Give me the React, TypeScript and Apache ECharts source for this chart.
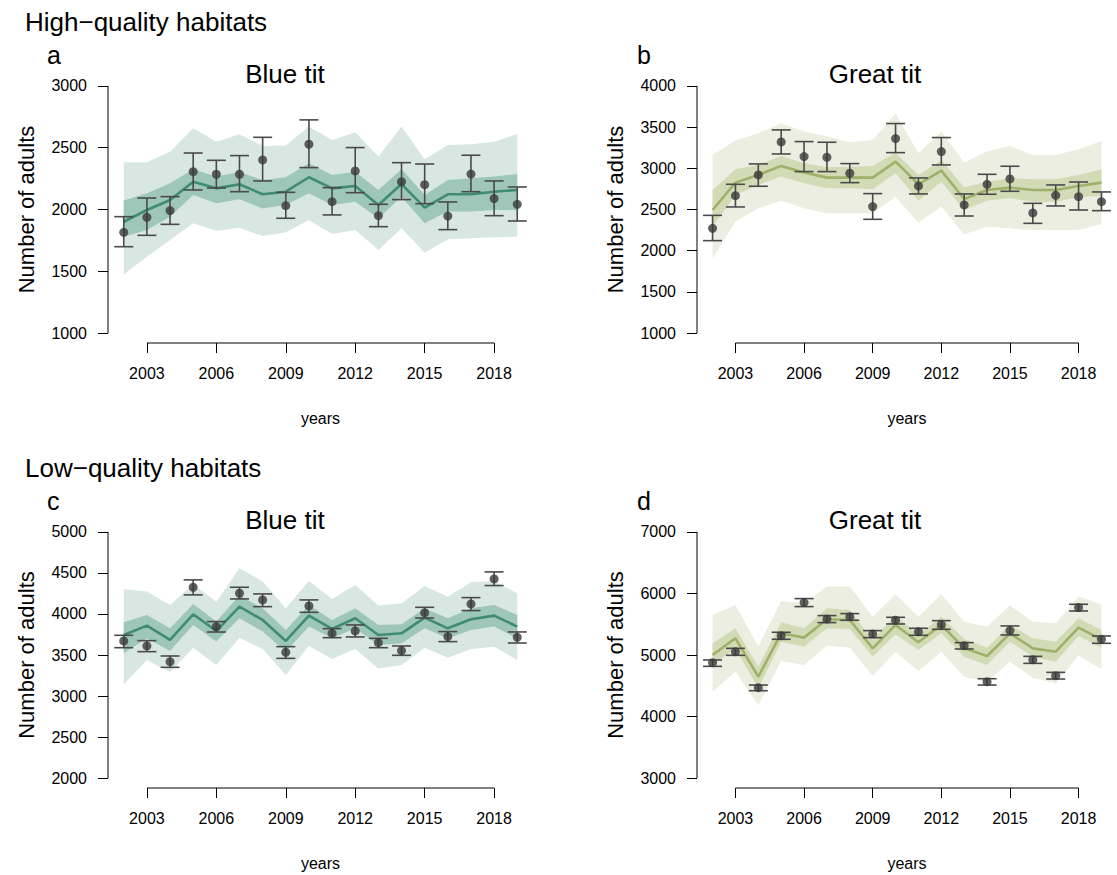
import React, { useEffect, useRef } from "react";
import * as echarts from "echarts";

const years = [2002, 2003, 2004, 2005, 2006, 2007, 2008, 2009, 2010, 2011, 2012, 2013, 2014, 2015, 2016, 2017, 2018, 2019];
const xTicks = [2003, 2006, 2009, 2012, 2015, 2018];

// Panel a: High-quality, Blue tit
const aTicks = [1000, 1500, 2000, 2500, 3000];
const aObs = [1815, 1937, 1991, 2306, 2285, 2285, 2401, 2031, 2528, 2063, 2312, 1950, 2225, 2201, 1947, 2287, 2088, 2042];
const aObsLo = [1699, 1791, 1880, 2158, 2174, 2144, 2231, 1929, 2339, 1956, 2136, 1861, 2080, 2047, 1837, 2144, 1950, 1907];
const aObsHi = [1942, 2093, 2104, 2457, 2398, 2436, 2584, 2139, 2725, 2177, 2501, 2042, 2379, 2368, 2061, 2439, 2231, 2182];
const aMed = [1901, 1996, 2077, 2225, 2171, 2204, 2123, 2144, 2261, 2171, 2190, 2036, 2206, 2015, 2123, 2123, 2144, 2158];
const aInnerLo = [1780, 1834, 1942, 2117, 2050, 2082, 2009, 2036, 2131, 2036, 2063, 1929, 2104, 1888, 1983, 1983, 1996, 1996];
const aInnerHi = [2072, 2131, 2212, 2325, 2266, 2304, 2239, 2260, 2374, 2279, 2306, 2158, 2325, 2117, 2239, 2252, 2266, 2287];
const aOuterLo = [1475, 1618, 1753, 1888, 1829, 1853, 1785, 1815, 1915, 1802, 1834, 1672, 1848, 1650, 1759, 1767, 1775, 1780];
const aOuterHi = [2382, 2382, 2468, 2657, 2549, 2609, 2514, 2517, 2671, 2563, 2625, 2428, 2671, 2406, 2522, 2528, 2549, 2611];

// Panel b: High-quality, Great tit
const bTicks = [1000, 1500, 2000, 2500, 3000, 3500, 4000];
const bObs = [2272, 2668, 2919, 3320, 3142, 3134, 2940, 2535, 3361, 2786, 3203, 2555, 2806, 2871, 2458, 2672, 2656, 2595];
const bObsLo = [2122, 2531, 2782, 3174, 2960, 2960, 2826, 2381, 3190, 2689, 3041, 2421, 2685, 2721, 2332, 2543, 2494, 2486];
const bObsHi = [2429, 2806, 3053, 3466, 3324, 3316, 3057, 2693, 3543, 2883, 3373, 2689, 2927, 3025, 2575, 2798, 2834, 2713];
const bMed = [2494, 2826, 2919, 3029, 2948, 2887, 2887, 2887, 3081, 2806, 2972, 2628, 2737, 2765, 2737, 2737, 2786, 2826];
const bInnerLo = [2292, 2676, 2798, 2899, 2818, 2757, 2757, 2745, 2940, 2608, 2838, 2494, 2608, 2636, 2595, 2595, 2648, 2664];
const bInnerHi = [2737, 2988, 3041, 3150, 3061, 3012, 3020, 3029, 3190, 2919, 3101, 2769, 2838, 2879, 2867, 2867, 2919, 2988];
const bOuterLo = [1907, 2353, 2514, 2607, 2514, 2454, 2454, 2454, 2656, 2340, 2535, 2199, 2292, 2272, 2251, 2251, 2251, 2324];
const bOuterHi = [3162, 3336, 3425, 3547, 3446, 3385, 3316, 3344, 3668, 3182, 3446, 3069, 3203, 3271, 3162, 3162, 3231, 3332];

// Panel c: Low-quality, Blue tit
const cTicks = [2000, 2500, 3000, 3500, 4000, 4500, 5000];
const cObs = [3671, 3610, 3419, 4325, 3845, 4252, 4171, 3533, 4098, 3764, 3793, 3650, 3553, 4016, 3724, 4122, 4427, 3715];
const cObsLo = [3589, 3541, 3350, 4232, 3780, 4183, 4089, 3459, 4020, 3711, 3720, 3589, 3496, 3951, 3663, 4041, 4346, 3646];
const cObsHi = [3740, 3675, 3488, 4415, 3907, 4325, 4244, 3602, 4171, 3821, 3866, 3703, 3610, 4081, 3785, 4199, 4512, 3781];
const cMed = [3744, 3858, 3683, 3996, 3793, 4089, 3927, 3671, 3980, 3817, 3947, 3744, 3764, 3955, 3825, 3935, 3980, 3846];
const cInnerLo = [3520, 3703, 3549, 3866, 3663, 3947, 3785, 3541, 3846, 3703, 3825, 3622, 3642, 3825, 3703, 3805, 3846, 3703];
const cInnerHi = [3898, 3988, 3825, 4122, 3907, 4224, 4069, 3805, 4110, 3927, 4069, 3866, 3874, 4069, 3947, 4069, 4110, 3988];
const cOuterLo = [3142, 3439, 3289, 3589, 3378, 3711, 3573, 3256, 3614, 3451, 3573, 3337, 3378, 3589, 3468, 3573, 3602, 3439];
const cOuterHi = [4301, 4272, 4110, 4362, 4150, 4557, 4394, 4069, 4402, 4183, 4354, 4102, 4130, 4341, 4211, 4386, 4402, 4252];

// Panel d: Low-quality, Great tit
const dTicks = [3000, 4000, 5000, 6000, 7000];
const dObs = [4875, 5054, 4469, 5314, 5851, 5585, 5623, 5341, 5564, 5379, 5493, 5152, 4566, 5396, 4924, 4664, 5770, 5255];
const dObsLo = [4816, 4995, 4420, 5255, 5786, 5526, 5564, 5282, 5504, 5320, 5417, 5098, 4512, 5325, 4864, 4610, 5715, 5190];
const dObsHi = [4919, 5108, 4512, 5369, 5916, 5640, 5672, 5396, 5612, 5434, 5558, 5201, 4615, 5472, 4978, 4718, 5824, 5309];
const dMed = [5000, 5271, 4648, 5352, 5282, 5580, 5569, 5108, 5488, 5206, 5488, 5108, 4984, 5352, 5108, 5054, 5444, 5255];
const dInnerLo = [4837, 5108, 4458, 5217, 5135, 5434, 5423, 4973, 5336, 5081, 5352, 4973, 4837, 5217, 4973, 4892, 5309, 5119];
const dInnerHi = [5190, 5434, 4810, 5531, 5434, 5759, 5732, 5244, 5650, 5325, 5623, 5260, 5119, 5488, 5271, 5217, 5596, 5407];
const dOuterLo = [4404, 4729, 4187, 4902, 4837, 5152, 5119, 4659, 5054, 4740, 5054, 4648, 4566, 4892, 4631, 4539, 4989, 4772];
const dOuterHi = [5650, 5813, 5135, 5878, 5840, 6111, 6111, 5623, 5986, 5623, 5992, 5542, 5461, 5802, 5542, 5515, 5949, 5824];

const FONT = "'Liberation Sans', Helvetica, Arial, sans-serif";
const TEAL = { line: "#3f8b74", inner: "#9ec6b9", outer: "#d9e7e3" };
const OLIVE = { line: "#a0b06b", inner: "#d3dab6", outer: "#eceee2" };

const panels = [
  { grid: { left: 108, top: 76, width: 425, height: 267 }, ticks: aTicks, obs: aObs, obsLo: aObsLo, obsHi: aObsHi, med: aMed, inLo: aInnerLo, inHi: aInnerHi, outLo: aOuterLo, outHi: aOuterHi, col: TEAL },
  { grid: { left: 697, top: 76, width: 425, height: 267 }, ticks: bTicks, obs: bObs, obsLo: bObsLo, obsHi: bObsHi, med: bMed, inLo: bInnerLo, inHi: bInnerHi, outLo: bOuterLo, outHi: bOuterHi, col: OLIVE },
  { grid: { left: 108, top: 522, width: 425, height: 266 }, ticks: cTicks, obs: cObs, obsLo: cObsLo, obsHi: cObsHi, med: cMed, inLo: cInnerLo, inHi: cInnerHi, outLo: cOuterLo, outHi: cOuterHi, col: TEAL },
  { grid: { left: 697, top: 522, width: 425, height: 266 }, ticks: dTicks, obs: dObs, obsLo: dObsLo, obsHi: dObsHi, med: dMed, inLo: dInnerLo, inHi: dInnerHi, outLo: dOuterLo, outHi: dOuterHi, col: OLIVE },
];

function ext(lo: number, hi: number) {
  const d = (hi - lo) * 0.04;
  return [lo - d, hi + d];
}

function bandSeries(idx: number, lo: number[], hi: number[], fill: string, z: number) {
  return {
    type: "custom",
    xAxisIndex: idx,
    yAxisIndex: idx,
    silent: true,
    z,
    data: years.map((y, k) => [y, lo[k], hi[k]]),
    encode: { x: 0, y: [1, 2] },
    renderItem: (params: any, api: any) => {
      if (params.dataIndex !== 0) return null;
      const top = years.map((y, k) => api.coord([y, hi[k]]));
      const bot = years.map((y, k) => api.coord([y, lo[k]])).reverse();
      return { type: "polygon", shape: { points: top.concat(bot) }, style: { fill, stroke: null } };
    },
  };
}

export default function App() {
  const ref = useRef<HTMLDivElement>(null);
  useEffect(() => {
    if (!ref.current) return;
    const chart = echarts.init(ref.current, null, { renderer: "svg" });
    const [xMin, xMax] = ext(years[0], years[years.length - 1]);
    const grids: any[] = [];
    const xAxes: any[] = [];
    const yAxes: any[] = [];
    const series: any[] = [];
    panels.forEach((p, i) => {
      const [yMin, yMax] = ext(p.ticks[0], p.ticks[p.ticks.length - 1]);
      grids.push({ ...p.grid, containLabel: false });
      xAxes.push({
        type: "value", gridIndex: i, min: xMin, max: xMax,
        axisLine: { show: false }, splitLine: { show: false },
        axisTick: { show: true, customValues: xTicks, length: 10, lineStyle: { color: "#000", width: 1 } },
        axisLabel: { show: true, customValues: xTicks, margin: 22, fontSize: 16, color: "#000", fontFamily: FONT, formatter: (v: number) => String(v) },
        name: "years", nameLocation: "middle", nameGap: 67,
        nameTextStyle: { fontSize: 16, color: "#000", fontFamily: FONT },
      });
      yAxes.push({
        type: "value", gridIndex: i, min: yMin, max: yMax,
        axisLine: { show: false }, splitLine: { show: false },
        axisTick: { show: true, customValues: p.ticks, length: 10, lineStyle: { color: "#000", width: 1 } },
        axisLabel: { show: true, customValues: p.ticks, margin: 21, fontSize: 16, color: "#000", fontFamily: FONT, formatter: (v: number) => String(v) },
        name: "Number of adults", nameLocation: "middle", nameGap: 71,
        nameTextStyle: { fontSize: 22, color: "#000", fontFamily: FONT },
      });
      series.push(bandSeries(i, p.outLo, p.outHi, p.col.outer, 1));
      series.push(bandSeries(i, p.inLo, p.inHi, p.col.inner, 2));
      series.push({
        type: "line", xAxisIndex: i, yAxisIndex: i, silent: true, z: 3,
        data: years.map((y, k) => [y, p.med[k]]),
        showSymbol: false, symbol: "none",
        lineStyle: { color: p.col.line, width: 2.6 },
      });
      series.push({
        type: "custom", xAxisIndex: i, yAxisIndex: i, silent: true, z: 4,
        data: years.map((y, k) => [y, p.obsLo[k], p.obsHi[k]]),
        encode: { x: 0, y: [1, 2] },
        renderItem: (params: any, api: any) => {
          const x = api.value(0);
          const a = api.coord([x, api.value(1)]);
          const b = api.coord([x, api.value(2)]);
          const w = 9.5;
          const st = { stroke: "#4a4a4a", lineWidth: 1.6 };
          return {
            type: "group",
            children: [
              { type: "line", shape: { x1: a[0], y1: a[1], x2: b[0], y2: b[1] }, style: st },
              { type: "line", shape: { x1: a[0] - w, y1: a[1], x2: a[0] + w, y2: a[1] }, style: st },
              { type: "line", shape: { x1: b[0] - w, y1: b[1], x2: b[0] + w, y2: b[1] }, style: st },
            ],
          };
        },
      });
      series.push({
        type: "scatter", xAxisIndex: i, yAxisIndex: i, silent: true, z: 5,
        data: years.map((y, k) => [y, p.obs[k]]),
        symbol: "circle", symbolSize: 9,
        itemStyle: { color: "#3a3a3a" },
      });
      // R-style axis lines spanning first to last tick
      series.push({
        type: "line", xAxisIndex: i, yAxisIndex: i, silent: true, z: 6, clip: false,
        data: [[xTicks[0], yMin], [xTicks[xTicks.length - 1], yMin]],
        symbol: "none", lineStyle: { color: "#000", width: 1 },
      });
      series.push({
        type: "line", xAxisIndex: i, yAxisIndex: i, silent: true, z: 6, clip: false,
        data: [[xMin, p.ticks[0]], [xMin, p.ticks[p.ticks.length - 1]]],
        symbol: "none", lineStyle: { color: "#000", width: 1 },
      });
    });

    const txt = (text: string, x: number, y: number, size: number, align: string) => ({
      type: "text", x, y, silent: true,
      style: { text, fontSize: size, fontFamily: FONT, fill: "#000", textAlign: align, textVerticalAlign: "middle" },
    });

    chart.setOption({
      animation: false,
      backgroundColor: "#fff",
      grid: grids,
      xAxis: xAxes,
      yAxis: yAxes,
      series,
      graphic: [
        txt("High\u2212quality habitats", 25, 22, 26, "left"),
        txt("a", 47, 55, 25, "left"),
        txt("Blue tit", 285, 74, 26, "center"),
        txt("b", 637, 55, 25, "left"),
        txt("Great tit", 875, 74, 26, "center"),
        txt("Low\u2212quality habitats", 25, 468, 26, "left"),
        txt("c", 47, 501, 25, "left"),
        txt("Blue tit", 285, 520, 26, "center"),
        txt("d", 637, 501, 25, "left"),
        txt("Great tit", 875, 520, 26, "center"),
      ],
    });
    return () => chart.dispose();
  }, []);
  return <div ref={ref} style={{ position: "absolute", left: 0, top: 0, width: 1117, height: 875 }} />;
}
